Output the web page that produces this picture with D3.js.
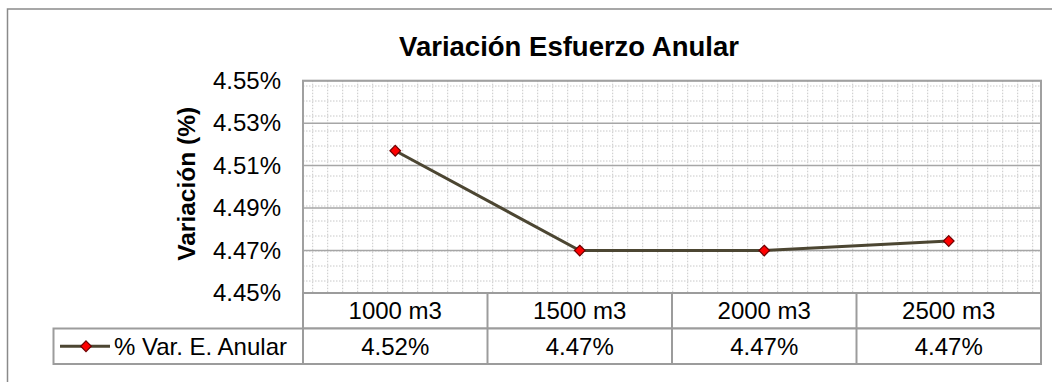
<!DOCTYPE html>
<html>
<head>
<meta charset="utf-8">
<script src="https://cdn.jsdelivr.net/npm/d3@7"></script>
<style>
  html, body { margin: 0; padding: 0; background: #fff; }
  svg { display: block; font-family: "Liberation Sans", Arial, sans-serif; }
</style>
</head>
<body>
<svg id="chart" width="1052" height="382"></svg>
<script>
// Tank capacities and the hoop-stress variation for each one
const categories = ["1000 m3", "1500 m3", "2000 m3", "2500 m3"];
const seriesName = "% Var. E. Anular";
const variation = [0.04517, 0.04470, 0.04470, 0.044745];
const yTicks = [0.0445, 0.0447, 0.0449, 0.0451, 0.0453, 0.0455];

const svg = d3.select("#chart");
const fmt = d3.format(".2%");

const plot = { left: 303, right: 1041, top: 80.7, bottom: 293 };
const rowH = 35.5;
const legendLeft = 53.5;

const x = d3.scaleBand().domain(categories).range([plot.left, plot.right]).padding(0);
const y = d3.scaleLinear().domain([yTicks[0], yTicks[yTicks.length - 1]]).range([plot.bottom, plot.top]);

// outer chart frame
svg.append("rect")
  .attr("x", 7.5).attr("y", 9).attr("width", 1100).attr("height", 420)
  .attr("fill", "#fff").attr("stroke", "#8a8a8a").attr("stroke-width", 1.5);

// title
svg.append("text")
  .attr("x", 569).attr("y", 56)
  .attr("text-anchor", "middle")
  .attr("font-size", 27.5).attr("font-weight", "bold").attr("fill", "#000")
  .text("Variación Esfuerzo Anular");

// plot-area background with dotted graph-paper pattern
const g = svg.append("g");
const clip = svg.append("clipPath").attr("id", "plotClip");
clip.append("rect").attr("x", plot.left).attr("y", plot.top)
  .attr("width", plot.right - plot.left).attr("height", plot.bottom - plot.top);

const paper = g.append("g").attr("clip-path", "url(#plotClip)");
paper.selectAll("line.vdot")
  .data(d3.range(plot.left + 9.7, plot.right, 15))
  .join("line").attr("class", "vdot")
  .attr("x1", d => d).attr("x2", d => d)
  .attr("y1", plot.top).attr("y2", plot.bottom)
  .attr("stroke", "#c8c8c8").attr("stroke-width", 1).attr("stroke-dasharray", "1.5,1.5");
paper.selectAll("line.hdot")
  .data(d3.range(plot.top + 5.3, plot.bottom, 15))
  .join("line").attr("class", "hdot")
  .attr("x1", plot.left).attr("x2", plot.right)
  .attr("y1", d => d).attr("y2", d => d)
  .attr("stroke", "#c8c8c8").attr("stroke-width", 1).attr("stroke-dasharray", "1.5,1.5");

// major horizontal gridlines
g.selectAll("line.major")
  .data(yTicks)
  .join("line").attr("class", "major")
  .attr("x1", plot.left).attr("x2", plot.right)
  .attr("y1", d => y(d)).attr("y2", d => y(d))
  .attr("stroke", "#a6a6a6").attr("stroke-width", 1.5);

// plot border
g.append("rect")
  .attr("x", plot.left).attr("y", plot.top)
  .attr("width", plot.right - plot.left).attr("height", plot.bottom - plot.top)
  .attr("fill", "none").attr("stroke", "#a0a0a0").attr("stroke-width", 2);

// y axis labels
const yAxis = d3.axisLeft(y).tickValues(yTicks).tickFormat(fmt).tickSize(0).tickPadding(0);
const ya = svg.append("g").attr("transform", "translate(281,0)").call(yAxis);
ya.select(".domain").remove();
ya.selectAll("text").attr("font-size", 24).attr("fill", "#000")
  .attr("font-family", "'Liberation Sans', Arial, sans-serif");

// y axis title
svg.append("text")
  .attr("transform", `translate(195,${(plot.top + plot.bottom) / 2 - 3}) rotate(-90)`)
  .attr("text-anchor", "middle")
  .attr("font-size", 24.5).attr("font-weight", "bold").attr("fill", "#000")
  .text("Variación (%)");

// data table below the plot
const table = svg.append("g");
const t1 = plot.bottom, t2 = plot.bottom + rowH, t3 = plot.bottom + 2 * rowH;
const tableStroke = "#9c9c9c";

table.append("rect")
  .attr("x", plot.left).attr("y", t1).attr("width", plot.right - plot.left).attr("height", rowH)
  .attr("fill", "#fff").attr("stroke", tableStroke).attr("stroke-width", 2);
table.append("rect")
  .attr("x", legendLeft).attr("y", t2).attr("width", plot.right - legendLeft).attr("height", rowH)
  .attr("fill", "#fff").attr("stroke", tableStroke).attr("stroke-width", 2);
table.selectAll("line.col")
  .data(categories.slice(1))
  .join("line").attr("class", "col")
  .attr("x1", d => x(d)).attr("x2", d => x(d))
  .attr("y1", t1).attr("y2", t3)
  .attr("stroke", tableStroke).attr("stroke-width", 2);
table.append("line")
  .attr("x1", plot.left).attr("x2", plot.left).attr("y1", t1).attr("y2", t3)
  .attr("stroke", tableStroke).attr("stroke-width", 2);

table.selectAll("text.cat")
  .data(categories)
  .join("text").attr("class", "cat")
  .attr("x", d => x(d) + x.bandwidth() / 2).attr("y", t1 + rowH / 2 + 8.5)
  .attr("text-anchor", "middle").attr("font-size", 24).attr("fill", "#000")
  .text(d => d);

table.selectAll("text.val")
  .data(variation)
  .join("text").attr("class", "val")
  .attr("x", (d, i) => x(categories[i]) + x.bandwidth() / 2).attr("y", t2 + rowH / 2 + 8.5)
  .attr("text-anchor", "middle").attr("font-size", 24).attr("fill", "#000")
  .text(d => fmt(d));

// legend key inside the table
const lineColor = "#4c4632";
const diamond = d3.symbol().type(d3.symbolDiamond2).size(72);
const ky = t2 + rowH / 2;
table.append("line")
  .attr("x1", 60).attr("x2", 110).attr("y1", ky).attr("y2", ky)
  .attr("stroke", lineColor).attr("stroke-width", 3);
table.append("path")
  .attr("d", diamond).attr("transform", `translate(86,${ky})`)
  .attr("fill", "#ff0000").attr("stroke", "#6e0000").attr("stroke-width", 1.2);
table.append("text")
  .attr("x", 114).attr("y", ky + 8.5)
  .attr("font-size", 24).attr("fill", "#000")
  .text(seriesName);

// series line and markers
const pts = variation.map((v, i) => [x(categories[i]) + x.bandwidth() / 2, y(v)]);
svg.append("path")
  .attr("d", d3.line()(pts))
  .attr("fill", "none").attr("stroke", lineColor).attr("stroke-width", 3);
svg.selectAll("path.mark")
  .data(pts)
  .join("path").attr("class", "mark")
  .attr("d", diamond)
  .attr("transform", d => `translate(${d[0]},${d[1]})`)
  .attr("fill", "#ff0000").attr("stroke", "#6e0000").attr("stroke-width", 1.2);
</script>
</body>
</html>
